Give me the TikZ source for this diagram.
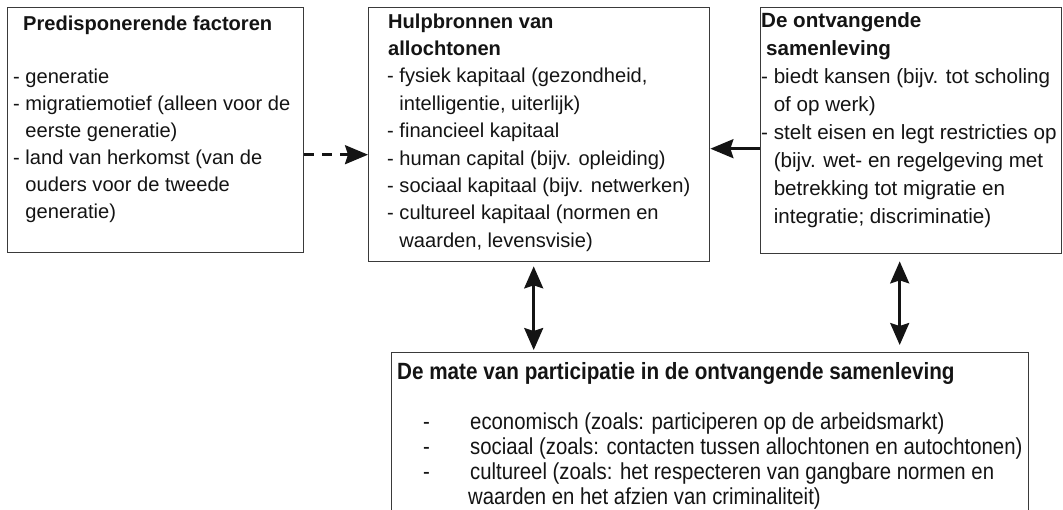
\documentclass[tikz,border=0pt]{standalone}
\usepackage{fontspec}
\setmainfont{Liberation Sans}
\newfontfamily\condfont[FakeStretch=0.88]{Liberation Sans}
\usetikzlibrary{arrows.meta}
\definecolor{boxline}{HTML}{3A3A3A}
\definecolor{ink}{HTML}{141414}
\newcommand\firststrut{\rule{0pt}{15pt}}
\newcommand\condstrut{\rule{0pt}{17pt}}
\begin{document}
\begin{tikzpicture}[x=1pt,y=1pt,
  box/.style={draw=boxline, line width=1.4pt, inner sep=0pt, anchor=north west},
  txt/.style={anchor=north west, inner sep=0pt, align=left, text=ink},
  arr/.style={draw=ink, line width=2.5pt, -{Stealth[length=23pt,width=19pt,inset=3pt]}},
  dbl/.style={draw=ink, line width=2.5pt, {Stealth[length=22pt,width=19pt,inset=3pt]}-{Stealth[length=22pt,width=19pt,inset=3pt]}},
  dasharr/.style={arr, dash pattern=on 10pt off 8pt}]
\useasboundingbox (0,0) rectangle (1063,-510);
\fill[white] (0,0) rectangle (1063,-510);
% boxes
\node[box, minimum width=296pt, minimum height=245pt] (b1) at (7,-7) {};
\node[box, minimum width=341pt, minimum height=254pt] (b2) at (368,-7) {};
\node[box, minimum width=301pt, minimum height=246pt] (b3) at (760,-7) {};
\node[box, minimum width=637pt, minimum height=165pt] (b4) at (391,-352) {};
% texts
\node[txt, font=\fontsize{20.1}{26.9}\selectfont] (t1) at (13,-15) {%
\firststrut\hspace*{10pt}\textbf{Predisponerende factoren}\\[26.9pt]
- generatie\\
- migratiemotief (alleen voor de\\
\phantom{- }eerste generatie)\\
- land van herkomst (van de\\
\phantom{- }ouders voor de tweede\\
\phantom{- }generatie)};
\node[txt, font=\fontsize{20.1}{27.4}\selectfont] (t2) at (387,-13) {%
\firststrut\hspace*{1pt}\textbf{Hulpbronnen van}\\
\hspace*{1pt}\textbf{allochtonen}\\
- fysiek kapitaal (gezondheid,\\
\phantom{- }intelligentie, uiterlijk)\\
- financieel kapitaal\\
- human capital (bijv. opleiding)\\
- sociaal kapitaal (bijv. netwerken)\\
- cultureel kapitaal (normen en\\
\phantom{- }waarden, levensvisie)};
\node[txt, font=\fontsize{20.6}{28}\selectfont] (t3) at (761,-12) {%
\firststrut\textbf{De ontvangende}\\
\hspace*{5pt}\textbf{samenleving}\\
- biedt kansen (bijv. tot scholing\\
\phantom{- }of op werk)\\
- stelt eisen en legt restricties op\\
\phantom{- }(bijv. wet- en regelgeving met\\
\phantom{- }betrekking tot migratie en\\
\phantom{- }integratie; discriminatie)};
\node[txt, font=\condfont\fontsize{23.1}{25}\selectfont] (t4) at (397,-362) {%
\condstrut{\fontsize{23.5}{25}\selectfont\textbf{De mate van participatie in de ontvangende samenleving}}\\[25pt]
\hspace*{26pt}\makebox[47pt][l]{-}economisch (zoals: participeren op de arbeidsmarkt)\\
\hspace*{26pt}\makebox[47pt][l]{-}sociaal (zoals: contacten tussen allochtonen en autochtonen)\\
\hspace*{26pt}\makebox[47pt][l]{-}cultureel (zoals: het respecteren van gangbare normen en\\
\hspace*{71pt}waarden en het afzien van criminaliteit)};
% connectors
\draw[dasharr] ([yshift=-24.5pt]b1.east) -- ([yshift=-20pt]b2.west);
\draw[arr] ([yshift=-18pt]b3.west) -- ([yshift=-14pt]b2.east);
\draw[dbl] ([shift={(-5.5,-4)}]b2.south) -- ([shift={(-176.5,2)}]b4.north);
\draw[dbl] ([shift={(-11.5,-7)}]b3.south) -- ([shift={(189.5,7)}]b4.north);
\end{tikzpicture}
\end{document}
